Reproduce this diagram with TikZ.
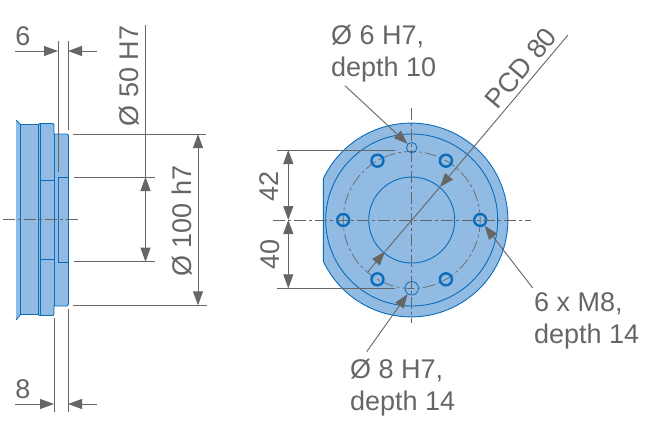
\documentclass[tikz,border=0pt]{standalone}
\usepackage{fontspec}
\setmainfont{Liberation Sans}
\usetikzlibrary{arrows.meta}
\definecolor{partfill}{HTML}{92BBE4}
\definecolor{partline}{HTML}{0B6CB8}
\definecolor{dimgray}{HTML}{666666}
\tikzset{
  part/.style={draw=partline,line width=0.9pt},
  hole/.style={draw=partline,line width=2.4pt,circle,minimum size=12pt,inner sep=0pt},
  pin/.style={draw=partline,line width=0.8pt,circle,inner sep=0pt},
  dimline/.style={draw=dimgray,line width=0.9pt},
  dimarrow/.style={dimline,-{Triangle[length=14pt,width=10pt]}},
  dimboth/.style={dimline,{Triangle[length=14pt,width=10pt]}-{Triangle[length=14pt,width=10pt]}},
  axis/.style={draw=dimgray,line width=0.8pt,dash pattern=on 12pt off 3pt on 3pt off 3pt},
  dimtext/.style={text=dimgray,font=\fontsize{27}{32}\selectfont,inner sep=0pt},
  note/.style={dimtext,align=left,anchor=base west}
}
\begin{document}
\begin{tikzpicture}[x=1pt,y=-1pt]
  \useasboundingbox (0,0) rectangle (649,429);
  % side view
  \fill[partfill] (16,120) -- (20.5,124.5) -- (38,124.5) -- (40,123.5) -- (53,123.5) -- (54,125) -- (54,134) -- (67,134) -- (68.5,135.5)
    -- (68.5,304) -- (67,306) -- (54,306) -- (54,314) -- (53,315.5) -- (40,315.5) -- (38,314.5) -- (20.5,314.5) -- (16,320) -- cycle;
  \draw[part] (16,120) -- (20.5,124.5) -- (38,124.5) -- (40,123.5) -- (53,123.5) -- (54,125) -- (54,134) -- (67,134) -- (68.5,135.5)
    -- (68.5,304) -- (67,306) -- (54,306) -- (54,314) -- (53,315.5) -- (40,315.5) -- (38,314.5) -- (20.5,314.5) -- (16,320);
  \draw[part] (20.5,124.5) -- (20.5,314.5);
  \draw[part] (38,124.5) -- (38,314.5);
  \draw[part] (40,123.5) -- (40,315.5);
  \draw[part] (54,134) -- (54,306);
  \draw[part] (40,180) -- (54,180);
  \draw[part] (40,259.5) -- (54,259.5);
  \draw[part] (68.5,177) -- (58,177) -- (58,262.5) -- (68.5,262.5);
  \draw[axis] (3,219.3) -- (81,219.3);
  % side view dimensions
  \coordinate (a6) at (58,51);
  \coordinate (b6) at (68,51);
  \coordinate (a8) at (54,404);
  \coordinate (b8) at (68,404);
  \coordinate (od1) at (198,134);
  \coordinate (od2) at (198,305.3);
  \coordinate (id1) at (145.5,177);
  \coordinate (id2) at (145.5,261.7);
  \draw[dimline] (58,41) -- (58,172);
  \draw[dimline] (68,41) -- (68,130);
  \draw[dimline] (54,318) -- (54,412);
  \draw[dimline] (68,309) -- (68,412);
  \draw[dimarrow] (15,51) -- (a6);
  \draw[dimarrow] (97,51) -- (b6);
  \draw[dimarrow] (15,404) -- (a8);
  \draw[dimarrow] (97,404) -- (b8);
  \draw[dimline] (73,134) -- (206,134);
  \draw[dimline] (73,305.3) -- (207,305.3);
  \draw[dimline] (74,177) -- (155,177);
  \draw[dimline] (74,261.7) -- (155,261.7);
  \draw[dimline] (145.5,25) -- (id1);
  \draw[dimboth] (id1) -- (id2);
  \draw[dimboth] (od1) -- (od2);
  \node[dimtext] (t6) at (23,36.5) {6};
  \node[dimtext] (t8) at (23,389) {8};
  \node[dimtext,rotate=90] (t50) at (129,76) {Ø 50 H7};
  \node[dimtext,rotate=90] (t100) at (182,221) {Ø 100 h7};
  % front view
  \begin{scope}[shift={(411.7,220)}]
    \begin{scope}[shift={(-0.7,0)}]
      \path[fill=partfill,draw=partline,line width=0.9pt] (154.8:96.9) arc[start angle=154.8,end angle=-154.8,radius=96.9] -- cycle;
    \end{scope}
    \draw[part] (0,0) circle[radius=86];
    \draw[part] (0,0) circle[radius=43];
    \draw[axis,line width=0.7pt] (0,0) circle[radius=68.5];
    \foreach \ang/\nm in {0/a,60/b,120/c,180/d,240/e,300/f}
      \node[hole] (\nm) at (\ang:68.5) {};
    \node[pin,minimum size=10.5pt] (pintop) at (0,-72.3) {};
    \node[pin,minimum size=13.5pt] (pinbot) at (0,68.3) {};
  \end{scope}
  \draw[axis] (273,220) -- (531,220);
  \draw[axis] (411.7,108) -- (411.7,323);
  % front view dimensions
  \coordinate (ctr) at (288.3,220);
  \coordinate (top42) at (288.3,150);
  \coordinate (bot40) at (288.3,288.3);
  \draw[dimline] (277,150) -- (395,150);
  \draw[dimline] (277,288.3) -- (395,288.3);
  \draw[dimboth] (top42) -- (ctr);
  \draw[dimboth] (ctr) -- (bot40);
  \node[dimtext,rotate=90] (t42) at (269.5,186) {42};
  \node[dimtext,rotate=90] (t40) at (270,254.5) {40};
  \coordinate (pcdend) at (568,35);
  \coordinate (pcdlow) at (368,271.7);
  \coordinate (pcdA) at (440,187);
  \coordinate (pcdB) at (385,251.5);
  \draw[dimarrow] (pcdend) -- (pcdA);
  \draw[dimline] (pcdA) -- (pcdB);
  \draw[dimarrow] (pcdlow) -- (pcdB);
  \node[dimtext,rotate=50] (tpcd) at (521,68) {PCD 80};
  \coordinate (lead6) at (345,85.7);
  \coordinate (lead8) at (366.7,351.7);
  \coordinate (leadm) at (532.7,288);
  \draw[dimarrow] (lead6) -- (pintop);
  \draw[dimarrow] (lead8) -- (pinbot);
  \draw[dimarrow] (leadm) -- (a);
  \node[note] (n6) at (331,76.7) {Ø 6 H7,\\depth 10};
  \node[note] (n8) at (350,410) {Ø 8 H7,\\depth 14};
  \node[note] (nm) at (534,343) {6 x M8,\\depth 14};
\end{tikzpicture}
\end{document}
